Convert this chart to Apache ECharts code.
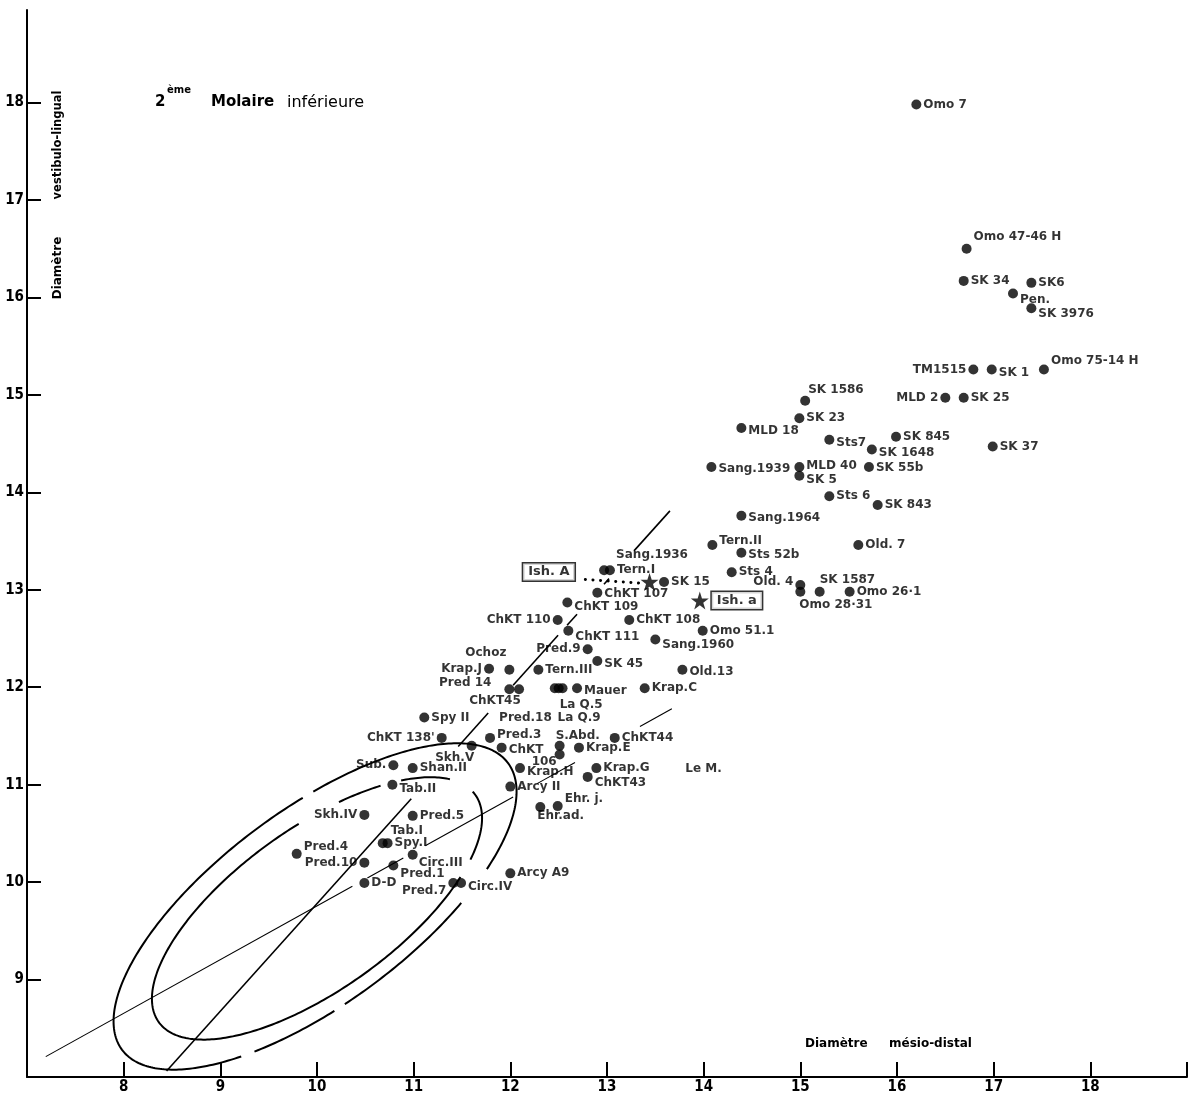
<!DOCTYPE html>
<html>
<head>
<meta charset="utf-8">
<script src="https://cdn.jsdelivr.net/npm/echarts@6/dist/echarts.min.js"></script>
<style>
html,body{margin:0;padding:0;background:#fff}
#chart{width:1193px;height:1098px}
</style>
</head>
<body>
<div id="chart"></div>
<script>
// Lower second molar: mesio-distal (x) vs vestibulo-lingual (y) crown diameters, mm
const specimens = [
  'Omo 7','Omo 47-46 H','SK 34','SK6','Pen.','SK 3976','TM1515','SK 1','Omo 75-14 H',
  'SK 1586','MLD 2','SK 25','SK 23','MLD 18','Sts7','SK 845','SK 1648','SK 37',
  'Sang.1939','MLD 40','SK 5','SK 55b','Sts 6','SK 843','Sang.1964','Tern.II','Sts 52b',
  'Old. 7','Sts 4','Old. 4','Omo 28·31','SK 1587','Omo 26·1','Sang.1936','Tern.I','SK 15',
  'ChKT 107','ChKT 109','ChKT 110','ChKT 108','ChKT 111','Omo 51.1','Sang.1960','Pred.9',
  'SK 45','Old.13','Tern.III','Krap.J','Ochoz','Krap.C','Mauer','Pred 14','ChKT45',
  'Pred.18','La Q.5','La Q.9','Spy II',"ChKT 138'",'Pred.3','Skh.V','ChKT 106','S.Abd.',
  'S.Abd.','Krap.E','ChKT44','Sub.','Shan.II','Krap.H','Krap.G','ChKT43','Tab.II',
  'Arcy II','Ehr.ad.','Ehr. j.','Skh.IV','Pred.5','Tab.I','Spy.I','Pred.4','Pred.10',
  'Circ.III','Pred.1','D-D','Pred.7','Circ.IV','Arcy A9'
];
const mesioDistal = [
  16.20,16.72,16.69,17.39,17.20,17.39,16.79,16.98,17.52,
  15.05,16.50,16.69,14.99,14.39,15.30,15.99,15.74,16.99,
  14.08,14.99,14.99,15.71,15.30,15.80,14.39,14.09,14.39,
  15.60,14.29,15.00,15.00,15.20,15.51,12.97,13.03,13.59,
  12.90,12.59,12.49,13.23,12.60,13.99,13.50,12.80,
  12.90,13.78,12.29,11.78,11.99,13.39,12.69,11.99,12.09,
  12.46,12.50,12.54,11.11,11.29,11.79,11.60,11.91,12.51,
  12.51,12.71,13.08,10.79,10.99,12.10,12.89,12.80,10.78,
  12.00,12.31,12.49,10.49,10.99,10.68,10.73,9.79,10.49,
  10.99,10.79,10.49,11.41,11.49,12.00
];
const vestibuloLingual = [
  17.98,16.50,16.17,16.15,16.04,15.89,15.26,15.26,15.26,
  14.94,14.97,14.97,14.76,14.66,14.54,14.57,14.44,14.47,
  14.26,14.26,14.17,14.26,13.96,13.87,13.76,13.46,13.38,
  13.46,13.18,13.05,12.98,12.98,12.98,13.20,13.20,13.08,
  12.97,12.87,12.69,12.69,12.58,12.58,12.49,12.39,
  12.27,12.18,12.18,12.19,12.18,11.99,11.99,11.98,11.98,
  11.99,11.99,11.99,11.69,11.48,11.48,11.40,11.38,11.40,
  11.31,11.38,11.48,11.20,11.17,11.17,11.17,11.08,11.00,
  10.98,10.77,10.78,10.69,10.68,10.40,10.40,10.29,10.20,
  10.28,10.17,9.99,9.99,9.99,10.09
];
// Ishango teeth (stars)
const ishNames = ['Ish. A','Ish. a'];
const ishMD = [13.44, 13.96];
const ishVL = [13.08, 12.89];
// Name printed without a point
const noteNames = ['Le M.'];
const noteMD = [13.81];
const noteVL = [11.16];

const xTickValues = [8,9,10,11,12,13,14,15,16,17,18];
const yTickValues = [9,10,11,12,13,14,15,16,17,18];

// Axes of the scatter, both passing through the ellipse centre
const steepLine = { p0:[8.465, 8.085], p1:[13.651, 13.81] };
const steepSpans = [[8.444,10.975],[11.461,11.771],[12.029,12.494],[12.587,12.690],[12.969,13.021],[13.279,13.651]];
const shallowLine = { p0:[7.194, 8.209], p1:[13.671, 11.779] };
const shallowSpans = [[7.194,10.366],[10.521,10.893],[11.120,12.029],[12.277,12.669],[13.341,13.671]];

// Equiprobability ellipses (centre, semi-axes in mm, tilt in degrees, drawn arcs in degrees)
const ellipses = [
  { cx:9.98, cy:9.75, a:2.48, b:1.00, angle:36.3, arcs:[[-48,74],[77,232],[236,259],[262,300]] },
  { cx:10.00, cy:9.73, a:2.01, b:0.83, angle:35.4, arcs:[[-38,3],[20,43],[51,66],[80,314]] }
];

// Label placement per specimen: [position, dx, dy]
const labelPlacement = {
  'Omo 47-46 H':['right',0,-12], 'Pen.':['right',0,6], 'SK 3976':['right',0,6],
  'TM1515':['left',0,0], 'SK 1':['right',0,3], 'Omo 75-14 H':['right',0,-9],
  'SK 1586':['right',-4,-11], 'MLD 2':['left',0,0], 'MLD 18':['right',0,3],
  'Sts7':['right',0,3], 'SK 1648':['right',0,3], 'Sang.1939':['right',0,2],
  'MLD 40':['right',0,-1], 'SK 5':['right',0,4], 'SK 55b':['right',0,1],
  'Sang.1964':['right',0,2], 'Tern.II':['right',0,-4], 'Sts 52b':['right',0,2],
  'Old. 4':['left',0,-3], 'Omo 28·31':['right',-8,13], 'SK 1587':['right',-7,-12],
  'Sang.1936':['right',5,-15], 'ChKT 107':['right',0,1], 'ChKT 109':['right',0,4],
  'ChKT 110':['left',0,0], 'ChKT 111':['right',0,6], 'Sang.1960':['right',0,5],
  'Pred.9':['left',0,0], 'SK 45':['right',0,3], 'Old.13':['right',0,2],
  'Krap.J':['left',0,0], 'Ochoz':['left',4,-17], 'Pred 14':['left',-11,-6],
  'ChKT45':['bottom',-24,-1], 'Mauer':['right',0,3], 'Pred.18':['left',4,30],
  'La Q.5':['right',-6,17], 'La Q.9':['right',-12,30], "ChKT 138'":['left',0,0],
  'Pred.3':['right',0,-3], 'Skh.V':['bottom',-17,-1], 'ChKT 106':['right',0,8],
  'S.Abd.':['right',-11,-10], 'Sub.':['left',0,0], 'Krap.H':['right',0,4],
  'ChKT43':['right',0,6], 'Tab.II':['right',0,4], 'Ehr.ad.':['right',-10,9],
  'Ehr. j.':['right',0,-7], 'Skh.IV':['left',0,0], 'Tab.I':['right',1,-12],
  'Pred.4':['right',0,-7], 'Pred.10':['left',0,0], 'Circ.III':['right',-1,8],
  'Pred.1':['right',0,8], 'Pred.7':['left',0,8], 'Circ.IV':['right',0,4]
};

const INK = '#000';
const LABEL_FONT = "'DejaVu Sans', Verdana, sans-serif";
const TICK_FONT = "'Liberation Sans Narrow', 'DejaVu Sans Condensed', 'Arial Narrow', sans-serif";
const STAR = 'path://M50,0 L61.8,35.1 L98.9,35.1 L68.9,56.8 L80.3,91.9 L50,70.2 L19.7,91.9 L31.1,56.8 L1.1,35.1 L38.2,35.1 Z';

const seen = {};
const pointData = specimens.map((name, i) => {
  const pl = labelPlacement[name] || ['right',0,0];
  const first = !seen[name];
  seen[name] = true;
  const label = { show:first, position:pl[0], offset:[pl[1], pl[2]] };
  if (name === 'ChKT 106') label.formatter = '{a|ChKT}\n{b|106}';
  return { name, value:[mesioDistal[i], vestibuloLingual[i]], label };
});

function lineAt(line, x) {
  const t = (x - line.p0[0]) / (line.p1[0] - line.p0[0]);
  return line.p0[1] + t * (line.p1[1] - line.p0[1]);
}

function segmentSeries(line, spans, width) {
  return {
    type:'custom', silent:true, z:1,
    data: spans,
    encode:{ x:[0,1] },
    renderItem(params, api) {
      const x0 = api.value(0), x1 = api.value(1);
      const a = api.coord([x0, lineAt(line, x0)]);
      const b = api.coord([x1, lineAt(line, x1)]);
      return { type:'line', shape:{ x1:a[0], y1:a[1], x2:b[0], y2:b[1] },
               style:{ stroke:INK, lineWidth:width } };
    }
  };
}

const ellipseSeries = {
  type:'custom', silent:true, z:1,
  data: ellipses.map((e, i) => [i]),
  renderItem(params, api) {
    const e = ellipses[params.dataIndex];
    const phi = e.angle * Math.PI / 180;
    const children = e.arcs.map(([d0, d1]) => {
      const pts = [];
      for (let d = d0; d <= d1 + 1e-9; d += 1) {
        const t = d * Math.PI / 180;
        const u = e.a * Math.cos(t), v = e.b * Math.sin(t);
        pts.push(api.coord([e.cx + u*Math.cos(phi) - v*Math.sin(phi),
                            e.cy + u*Math.sin(phi) + v*Math.cos(phi)]));
      }
      return { type:'polyline', shape:{ points:pts },
               style:{ stroke:INK, lineWidth:2, fill:null } };
    });
    return { type:'group', children };
  }
};

// dotted guide from the Ish. A box to its star
const guideSeries = {
  type:'custom', silent:true, z:2,
  data: [[ishMD[0], ishVL[0]]],
  renderItem(params, api) {
    const p = api.coord([api.value(0), api.value(1)]);
    return { type:'line', shape:{ x1:p[0]-11, y1:p[1]+1, x2:p[0]-70, y2:p[1]-3 },
             style:{ stroke:INK, lineWidth:3, lineDash:[0.1,7.5], lineCap:'round' } };
  }
};

const TITLE_FONT = "'DejaVu Sans', sans-serif";
const chart = echarts.init(document.getElementById('chart'), null, { renderer:'canvas' });
chart.setOption({
  backgroundColor:'#ffffff',
  animation:false,
  grid:{ left:27, right:6, top:10, bottom:21, containLabel:false },
  xAxis:{
    type:'value', min:7, max:19, position:'bottom',
    axisLine:{ show:true, onZero:false, lineStyle:{ color:INK, width:2 } },
    axisTick:{ show:true, inside:true, length:15, customValues:[...xTickValues, 19], lineStyle:{ color:INK, width:2 } },
    axisLabel:{ show:true, customValues:xTickValues, margin:3, color:INK,
                fontFamily:TICK_FONT, fontWeight:'bold', fontSize:15 },
    splitLine:{ show:false }
  },
  yAxis:{
    type:'value', min:8, max:18.95, position:'left',
    axisLine:{ show:true, onZero:false, lineStyle:{ color:INK, width:2 } },
    axisTick:{ show:true, inside:true, length:14, customValues:yTickValues, lineStyle:{ color:INK, width:2 } },
    axisLabel:{ show:true, customValues:yTickValues, margin:3, color:INK,
                fontFamily:TICK_FONT, fontWeight:'bold', fontSize:15 },
    splitLine:{ show:false }
  },
  graphic:[
    { type:'text', left:155, top:95, style:{ text:'2', font:`bold 15px ${TITLE_FONT}`, fill:INK } },
    { type:'text', left:167, top:85, style:{ text:'ème', font:`bold 10px ${TITLE_FONT}`, fill:INK } },
    { type:'text', left:211, top:95, style:{ text:'Molaire', font:`bold 15px ${TITLE_FONT}`, fill:INK } },
    { type:'text', left:287, top:95, style:{ text:'inférieure', font:`16px ${TITLE_FONT}`, fill:INK } },
    { type:'text', x:58, y:268, rotation:Math.PI/2,
      style:{ text:'Diamètre', font:`bold 12px ${TITLE_FONT}`, fill:INK, align:'center', verticalAlign:'middle' } },
    { type:'text', x:58, y:145, rotation:Math.PI/2,
      style:{ text:'vestibulo-lingual', font:`bold 11.5px ${TITLE_FONT}`, fill:INK, align:'center', verticalAlign:'middle' } },
    { type:'text', left:805, top:1038, style:{ text:'Diamètre', font:`bold 12px ${TITLE_FONT}`, fill:INK } },
    { type:'text', left:889, top:1038, style:{ text:'mésio-distal', font:`bold 12px ${TITLE_FONT}`, fill:INK } }
  ],
  series:[
    ellipseSeries,
    segmentSeries(steepLine, steepSpans, 1.6),
    segmentSeries(shallowLine, shallowSpans, 1.1),
    guideSeries,
    {
      type:'scatter', z:3, symbol:'circle', symbolSize:10,
      itemStyle:{ color:INK },
      label:{ show:true, formatter:'{b}', distance:2, color:INK,
              fontFamily:LABEL_FONT, fontWeight:'bold', fontSize:12,
              rich:{ a:{ fontFamily:LABEL_FONT, fontWeight:'bold', fontSize:12, color:INK, lineHeight:12 },
                     b:{ fontFamily:LABEL_FONT, fontWeight:'bold', fontSize:12, color:INK, lineHeight:12, padding:[0,0,0,23] } } },
      data: pointData
    },
    {
      type:'scatter', z:4, symbol:STAR, symbolSize:18,
      itemStyle:{ color:INK },
      label:{ show:true, formatter:'{b}', color:INK, fontFamily:LABEL_FONT, fontWeight:'bold', fontSize:13,
              borderColor:INK, borderWidth:1.5, padding:[2,5,2,5], backgroundColor:'#fff' },
      data: ishNames.map((n, i) => ({
        name:n, value:[ishMD[i], ishVL[i]],
        label: i === 0 ? { position:'left', distance:66, offset:[0,-10] } : { position:'right', distance:3, offset:[0,0] }
      }))
    },
    {
      type:'scatter', z:3, symbolSize:0,
      label:{ show:true, formatter:'{b}', position:'right', distance:0, color:INK,
              fontFamily:LABEL_FONT, fontWeight:'bold', fontSize:12 },
      data: noteNames.map((n, i) => ({ name:n, value:[noteMD[i], noteVL[i]] }))
    }
  ]
});
</script>
</body>
</html>
